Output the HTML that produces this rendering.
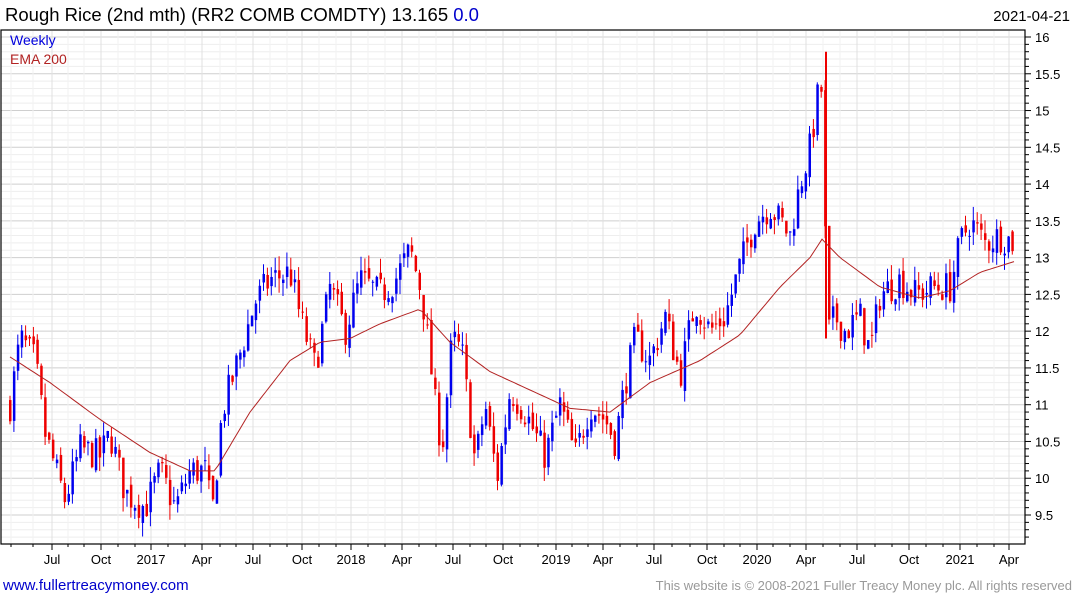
<!DOCTYPE html>
<html><head><meta charset="utf-8"><style>
body{margin:0;background:#fff;font-family:"Liberation Sans","DejaVu Sans",sans-serif}
</style></head><body>
<svg id="s" width="1075" height="600" xmlns="http://www.w3.org/2000/svg" font-family="Liberation Sans, DejaVu Sans, sans-serif">
<rect width="1075" height="600" fill="#fff"/>
<g id="grid"></g>
<g id="bars"></g>
<polyline id="ema" fill="none" stroke="#b22222" stroke-width="1"/>
<rect x="1" y="30" width="1024" height="514" fill="none" stroke="#000" stroke-width="1.2"/>
<g id="axis" font-size="13" fill="#000"></g>
<text x="5" y="21" font-size="18.5" fill="#000">Rough Rice (2nd mth) (RR2 COMB COMDTY) 13.165 <tspan fill="#0000cc">0.0</tspan></text>
<text x="1070" y="21" font-size="15" text-anchor="end">2021-04-21</text>
<text x="10" y="45" font-size="14" fill="#0000dd">Weekly</text>
<text x="10" y="64" font-size="14" fill="#b22222">EMA 200</text>
<text x="3" y="590" font-size="15" fill="#0000cc">www.fullertreacymoney.com</text>
<text x="1072" y="590" font-size="13" fill="#999" text-anchor="end">This website is © 2008-2021 Fuller Treacy Money plc. All rights reserved</text>
</svg>
<script>
const NS="http://www.w3.org/2000/svg";
const Y=v=>37+(16-v)*73.54;
function el(p,t,a){const e=document.createElementNS(NS,t);for(const k in a)e.setAttribute(k,a[k]);p.appendChild(e);return e;}
const g=document.getElementById('grid'),ax=document.getElementById('axis');
for(let v=9.2;v<=16.25;v+=0.1){const y=Y(v);if(y<31||y>543)continue;const maj=Math.abs(v*2-Math.round(v*2))<0.01;
el(g,'line',{x1:1,x2:1025,y1:y,y2:y,stroke:maj?'#cfcfcf':'#eeeeee','stroke-width':1});
el(ax,'line',{x1:1025,x2:maj?1031:1029,y1:y,y2:y,stroke:'#000'});
if(maj)el(ax,'text',{x:1035,y:y+5}).textContent=(Math.round(v*2)/2).toString();}
const xs=[[52,'Jul'],[101,'Oct'],[151,'2017'],[202,'Apr'],[253,'Jul'],[302,'Oct'],[351,'2018'],[402,'Apr'],[453,'Jul'],[503,'Oct'],[556,'2019'],[603,'Apr'],[654,'Jul'],[707,'Oct'],[757,'2020'],[806,'Apr'],[857,'Jul'],[909,'Oct'],[960,'2021'],[1009,'Apr']];
xs.forEach(([x,t])=>{el(g,'line',{x1:x,x2:x,y1:31,y2:543,stroke:'#e0e0e0'});el(ax,'line',{x1:x,x2:x,y1:544,y2:550,stroke:'#000'});el(ax,'text',{x:x,y:564,'text-anchor':'middle'}).textContent=t;});
[11,33,68,84,118,135,168,185,220,236,270,287,319,336,368,385,419,436,470,486,520,538,572,588,620,637,672,690,724,740,773,790,823,840,875,892,926,943,977,994].forEach(x=>{el(g,'line',{x1:x,x2:x,y1:31,y2:543,stroke:'#f2f2f2'});el(ax,'line',{x1:x,x2:x,y1:544,y2:547,stroke:'#000'});});
const P=[[10,11.0],[20,11.9],[35,11.6],[45,10.6],[65,9.7],[80,10.4],[100,10.3],[110,10.6],[125,9.8],[145,9.6],[160,10.1],[175,9.6],[190,10.1],[205,10.1],[212,9.5],[222,10.9],[240,11.7],[255,12.4],[270,12.7],[290,12.8],[300,12.2],[315,11.5],[330,12.6],[345,12.0],[360,12.7],[380,12.5],[395,12.7],[410,13.1],[420,12.6],[425,12.2],[435,11.0],[442,10.4],[452,11.9],[462,11.7],[475,10.2],[485,11.0],[497,10.0],[510,11.2],[525,10.9],[545,10.3],[560,11.0],[575,10.3],[590,11.0],[605,10.8],[615,10.5],[625,11.3],[635,11.9],[650,11.6],[665,12.2],[680,11.4],[695,12.4],[710,12.0],[725,12.2],[740,12.9],[755,13.5],[770,13.7],[790,13.3],[800,14.0],[810,14.5],[820,15.4],[824,15.0],[826,11.9],[835,12.2],[845,12.0],[860,12.2],[870,11.7],[880,12.5],[900,12.7],[915,12.5],[935,12.6],[950,12.6],[960,13.2],[970,13.5],[985,13.2],[1000,13.3],[1015,13.2]];
function interp(A,x){for(let i=0;i<A.length-1;i++){if(x<=A[i+1][0]){const t=(x-A[i][0])/(A[i+1][0]-A[i][0]);return A[i][1]+t*(A[i+1][1]-A[i][1]);}}return A[A.length-1][1];}
let seed=7;const rnd=()=>{seed=(seed*16807)%2147483647;return seed/2147483647;};
const b=document.getElementById('bars');let prev=11.0;
for(let x=10;x<=1015;x+=3.9){const c=interp(P,x)+(rnd()-0.5)*0.45;const o=prev+(rnd()-0.5)*0.15;
const hi=Math.max(o,c)+rnd()*0.2,lo=Math.min(o,c)-rnd()*0.2;const col=c>=o?'#0000ee':'#ee0000';
el(b,'line',{x1:x,x2:x,y1:Y(hi),y2:Y(lo),stroke:col,'stroke-width':1});
el(b,'rect',{x:x-1,y:Y(Math.max(o,c)),width:2.5,height:Math.max(1,Math.abs(Y(o)-Y(c))),fill:col});prev=c;}
el(b,'line',{x1:826,x2:826,y1:Y(15.8),y2:Y(11.9),stroke:'#ee0000','stroke-width':2});
const E=[[10,11.65],[50,11.3],[100,10.8],[150,10.35],[190,10.1],[215,10.1],[250,10.9],[290,11.6],[320,11.85],[350,11.9],[380,12.1],[420,12.3],[450,11.85],[490,11.45],[530,11.2],[570,10.95],[610,10.9],[650,11.3],[700,11.6],[740,11.95],[780,12.6],[810,13.0],[822,13.25],[840,13.0],[880,12.6],[920,12.45],[950,12.55],[980,12.8],[1015,12.95]];
let pts=[];for(let x=10;x<=1015;x+=4)pts.push(x+','+Y(interp(E,x)).toFixed(1));
document.getElementById('ema').setAttribute('points',pts.join(' '));
</script>
</body></html>
